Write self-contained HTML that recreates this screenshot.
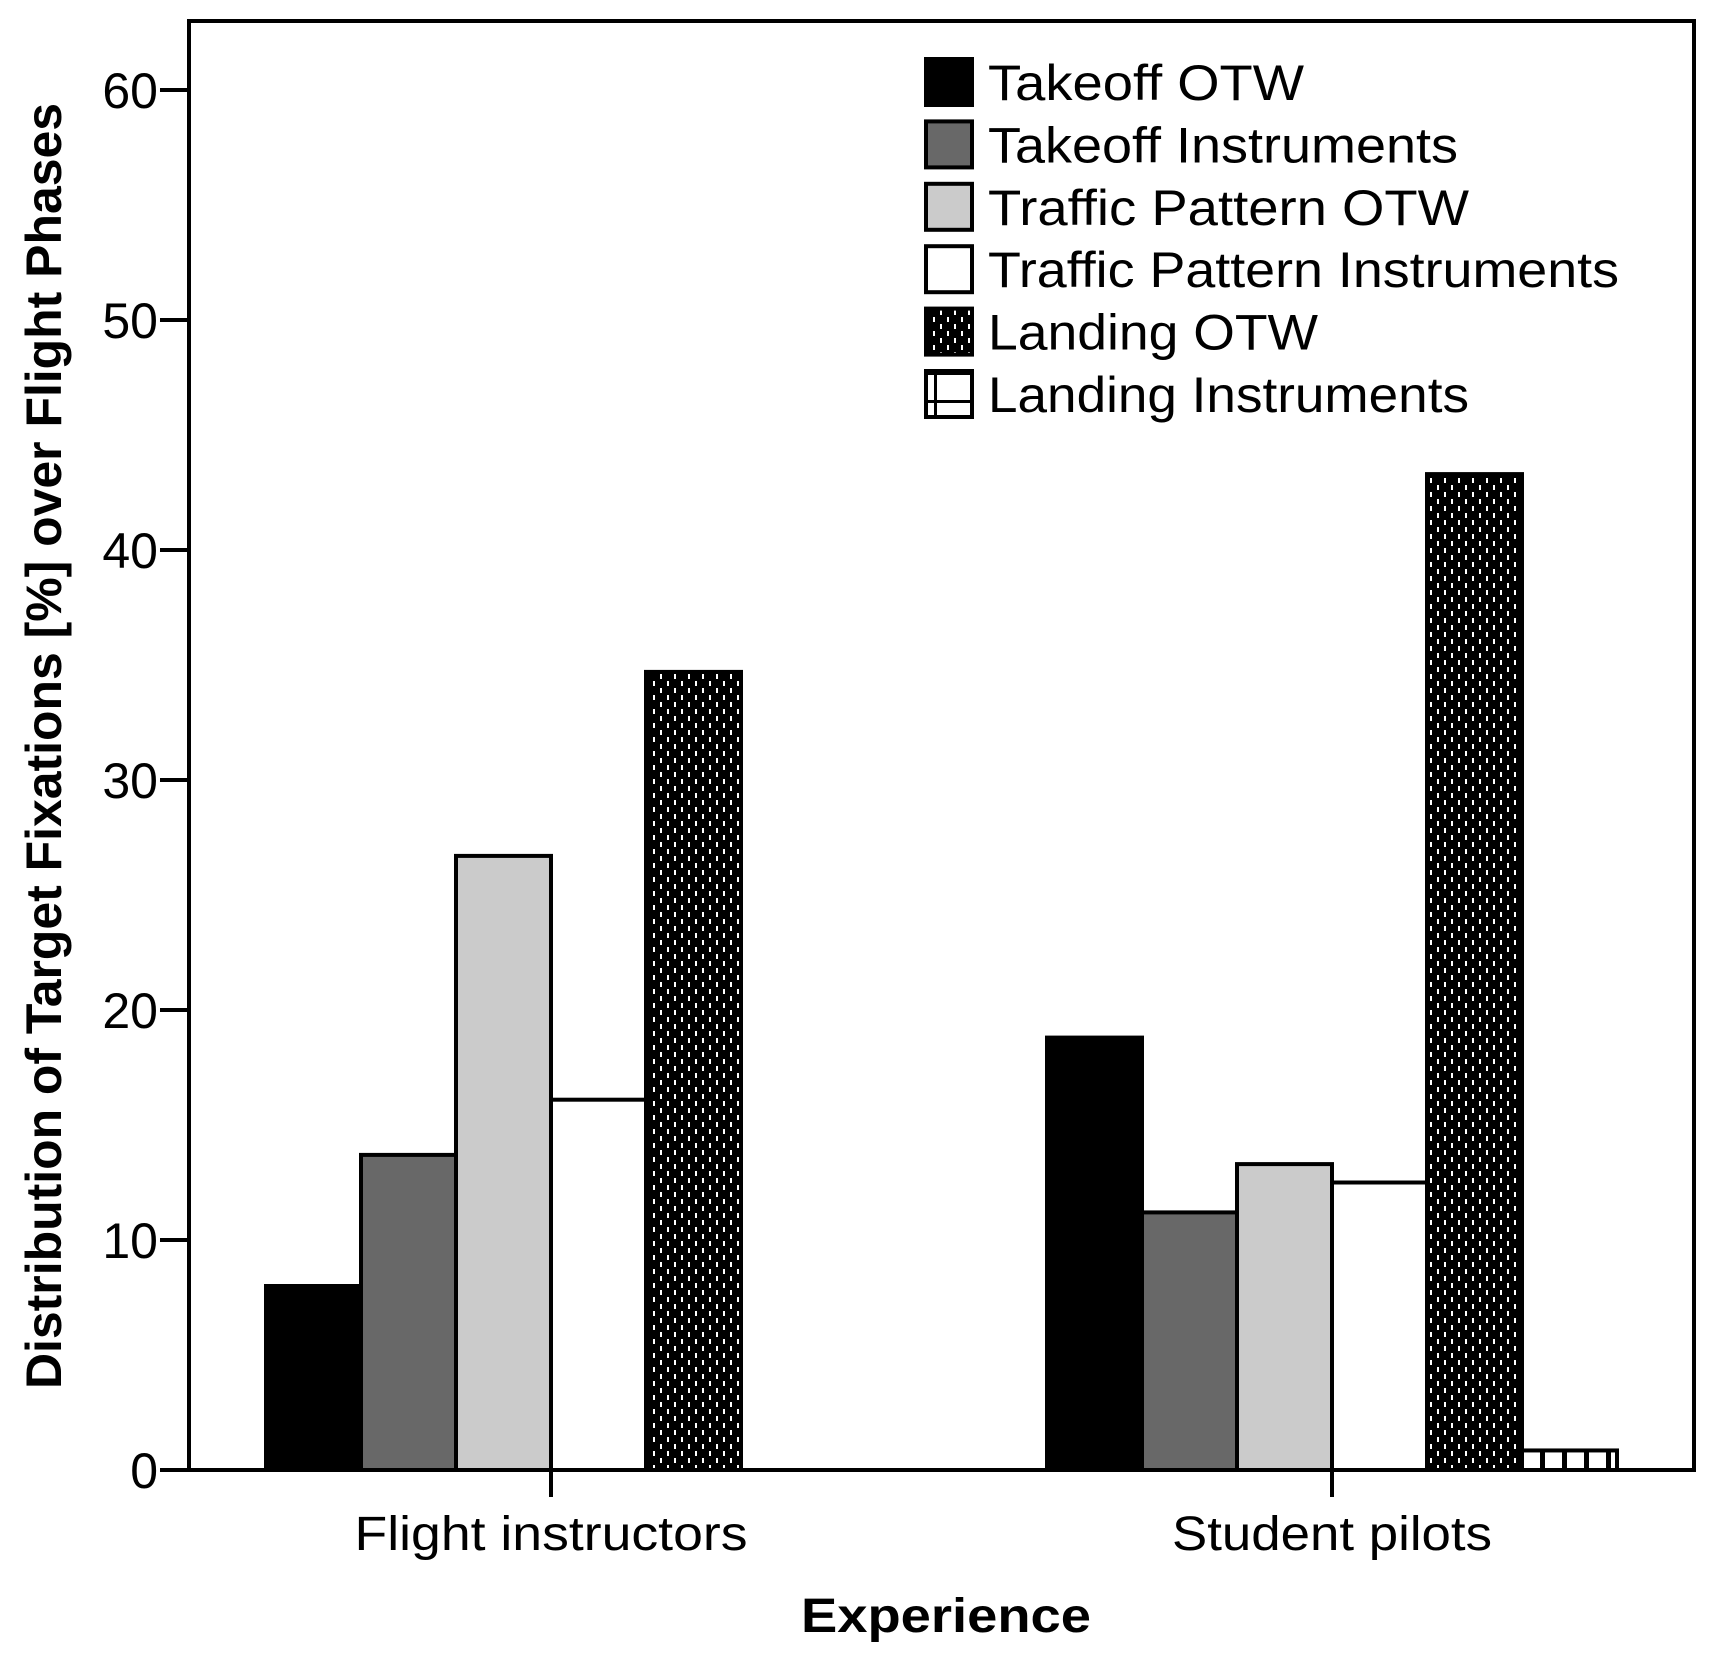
<!DOCTYPE html>
<html><head><meta charset="utf-8"><style>
html,body{margin:0;padding:0;background:#fff;}
svg{display:block;font-family:"Liberation Sans",Arial,sans-serif;}
</style></head><body>
<svg id="chart" width="1719" height="1669" viewBox="0 0 1719 1669" xmlns="http://www.w3.org/2000/svg">
<defs>
<pattern id="dots" width="14" height="14" patternUnits="userSpaceOnUse">
<rect width="14" height="14" fill="#000"/>
<rect x="2" y="2" width="2" height="5" fill="#fff"/>
<rect x="9" y="9" width="2" height="5" fill="#fff"/>
</pattern>
<pattern id="grid" width="22" height="200" patternUnits="userSpaceOnUse">
<rect width="22" height="200" fill="#fff"/>
<rect x="0" y="0" width="5" height="200" fill="#000"/>
</pattern>
<pattern id="lgrid" width="48" height="48" patternUnits="userSpaceOnUse">
<rect width="48" height="48" fill="#fff"/>
<rect x="22" y="0" width="3" height="48" fill="#000"/>
<rect x="0" y="16" width="48" height="3" fill="#000"/>
<rect x="0" y="36" width="48" height="3" fill="#000"/>
</pattern>
</defs>
<rect x="189" y="21" width="1505" height="1449" fill="none" stroke="#000" stroke-width="4"/>
<g id="yaxis"></g>
<g id="bars"></g>
<g id="xaxis"></g>
<text x="44" y="746" transform="rotate(-90 44 746)" text-anchor="middle" dominant-baseline="central" font-weight="bold" font-size="50" textLength="1286" lengthAdjust="spacingAndGlyphs">Distribution of Target Fixations [%] over Flight Phases</text>
<text x="946" y="1632" text-anchor="middle" font-weight="bold" font-size="48" textLength="290" lengthAdjust="spacingAndGlyphs">Experience</text>
<g id="legend"></g>
</svg>
<script>
const categories = ["Flight instructors", "Student pilots"];
const seriesNames = ["Takeoff OTW", "Takeoff Instruments", "Traffic Pattern OTW", "Traffic Pattern Instruments", "Landing OTW", "Landing Instruments"];
const instructorValues = [8.0, 13.7, 26.7, 16.1, 34.7, 0];
const studentValues = [18.8, 11.2, 13.3, 12.5, 43.3, 0.85];
const yTicks = [0, 10, 20, 30, 40, 50, 60];

const NS = "http://www.w3.org/2000/svg";
const fills = ["#000", "#686868", "#cbcbcb", "#fff", "url(#dots)", "url(#grid)"];
const lfills = ["#000", "#686868", "#cbcbcb", "#fff", "url(#dots)", "url(#lgrid)"];
const base = 1470, unit = 23.0;
const y = v => base - v * unit;
const centers = [551, 1332];
const bw = 95;
const catLen = [393, 320];
function mk(tag, attrs, parent){const e=document.createElementNS(NS,tag);for(const k in attrs)e.setAttribute(k,attrs[k]);parent.appendChild(e);return e;}

const yg = document.getElementById("yaxis");
yTicks.forEach(t=>{
  const l = mk("line",{x1:160,x2:189,y1:y(t),y2:y(t),stroke:"#000","stroke-width":4},yg);
  
  
  const tx = mk("text",{x:158,y:y(t)+18,"text-anchor":"end","font-size":50},yg);
  tx.textContent = t;
  
  
});

const bg = document.getElementById("bars");
[instructorValues, studentValues].forEach((vals,gi)=>{
  vals.forEach((v,i)=>{
    if(v<=0) return;
    const x = centers[gi] + (i-3)*bw;
    const r = mk("rect",{x:x,y:y(v),width:bw,height:base-y(v),fill:fills[i],stroke:"#000","stroke-width":4},bg);
    
    
  });
});

const xg = document.getElementById("xaxis");
categories.forEach((c,i)=>{
  const l = mk("line",{x1:centers[i],x2:centers[i],y1:1470,y2:1497,stroke:"#000","stroke-width":4},xg);
  
  
  const tx = mk("text",{x:centers[i],y:1550,"text-anchor":"middle","font-size":48,textLength:catLen[i],lengthAdjust:"spacingAndGlyphs"},xg);
  tx.textContent = c;
  
  
});

const lg = document.getElementById("legend");
const lw=[316,470,481,631,330,481];
seriesNames.forEach((n,i)=>{
  const cy = 82 + i*62.4;
  const r = mk("rect",{x:926,y:cy-23,width:46,height:46,fill:lfills[i],stroke:"#000","stroke-width":4},lg);
  
  
  const tx = mk("text",{x:988,y:cy+18,"font-size":50,textLength:lw[i],lengthAdjust:"spacingAndGlyphs"},lg);
  tx.textContent = n;
  
  
});
</script>
</body></html>
